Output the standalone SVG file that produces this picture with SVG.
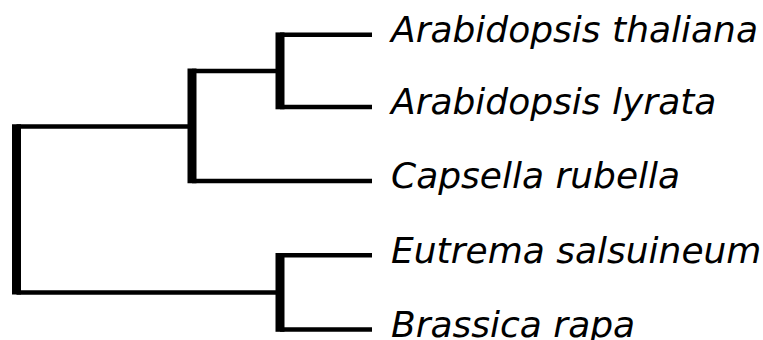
<svg xmlns="http://www.w3.org/2000/svg" width="763" height="340" viewBox="0 0 763 340">
<style>
.h{stroke:#000;stroke-width:4.5;fill:none;stroke-linecap:butt}
.v{stroke:#000;stroke-width:9;fill:none;stroke-linecap:butt}
.lbl{font-family:"DejaVu Sans",sans-serif;font-style:italic;font-size:36px;fill:#000}
</style>
<rect width="763" height="340" fill="#fff"/>
<g id="connectors">
<line class="v" x1="16.5" y1="124.2" x2="16.5" y2="294.6"/>
<line class="h" x1="16.5" y1="126.5" x2="192" y2="126.5"/>
<line class="h" x1="16.5" y1="292.4" x2="280" y2="292.4"/>
<line class="v" x1="192" y1="68.6" x2="192" y2="183.3"/>
<line class="h" x1="192" y1="70.9" x2="280" y2="70.9"/>
<line class="h" x1="192" y1="181" x2="372" y2="181"/>
<line class="v" x1="280" y1="32.4" x2="280" y2="109.3"/>
<line class="h" x1="280" y1="34.7" x2="372" y2="34.7"/>
<line class="h" x1="280" y1="107" x2="372" y2="107"/>
<line class="v" x1="280" y1="253" x2="280" y2="331.8"/>
<line class="h" x1="280" y1="255.3" x2="372" y2="255.3"/>
<line class="h" x1="280" y1="329.5" x2="372" y2="329.5"/>
</g>
<g id="leaf-athaliana"><text class="lbl" x="391" y="42">Arabidopsis thaliana</text></g>
<g id="leaf-alyrata"><text class="lbl" x="391" y="114.3">Arabidopsis lyrata</text></g>
<g id="leaf-crubella"><text class="lbl" x="391" y="188.3">Capsella rubella</text></g>
<g id="leaf-esalsuineum"><text class="lbl" x="391" y="262.6">Eutrema salsuineum</text></g>
<g id="leaf-brapa"><text class="lbl" x="391" y="336.8">Brassica rapa</text></g>
</svg>
